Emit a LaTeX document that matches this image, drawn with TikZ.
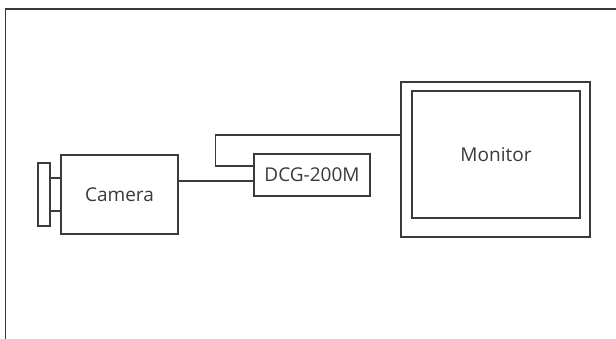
\documentclass[tikz,border=0pt]{standalone}
\usepackage{fontspec}
\setmainfont{Open Sans}
\definecolor{ink}{HTML}{3A3A3A}
\tikzset{
  unit/.style={draw=ink,line width=1.2pt,fill=white,inner sep=0pt,text=ink,font=\fontsize{19}{23}\selectfont},
  wire/.style={draw=ink,line width=1.1pt}
}
\begin{document}
\begin{tikzpicture}[x=1pt,y=-1pt]
\useasboundingbox (0,0) rectangle (616,339);

\draw[wire] (5.5,339) -- (5.5,9) -- (616,9);

\node[unit,minimum width=12pt,minimum height=63pt] (plate) at (44,194.5) {};
\node[unit,minimum width=11pt,minimum height=33pt] (lens) at (55.5,194.5) {};
\node[unit,minimum width=117pt,minimum height=79pt] (cam) at (119.5,194.5) {Camera};
\node[unit,minimum width=116pt,minimum height=42pt] (dcg) at (312,175) {DCG-200M};
\node[unit,minimum width=189pt,minimum height=155pt] (mon) at (495.5,159.5) {};
\node[unit,minimum width=168pt,minimum height=127pt] (screen) at (496,154.5) {Monitor};

\coordinate (jack) at ([yshift=-6pt]dcg.west);
\coordinate (bend) at (215.5,135);

\draw[wire] (cam.east |- jack) -- (jack);
\draw[wire] ([yshift=9pt]dcg.west) -| (bend) -- (mon.west |- bend);
\end{tikzpicture}
\end{document}
